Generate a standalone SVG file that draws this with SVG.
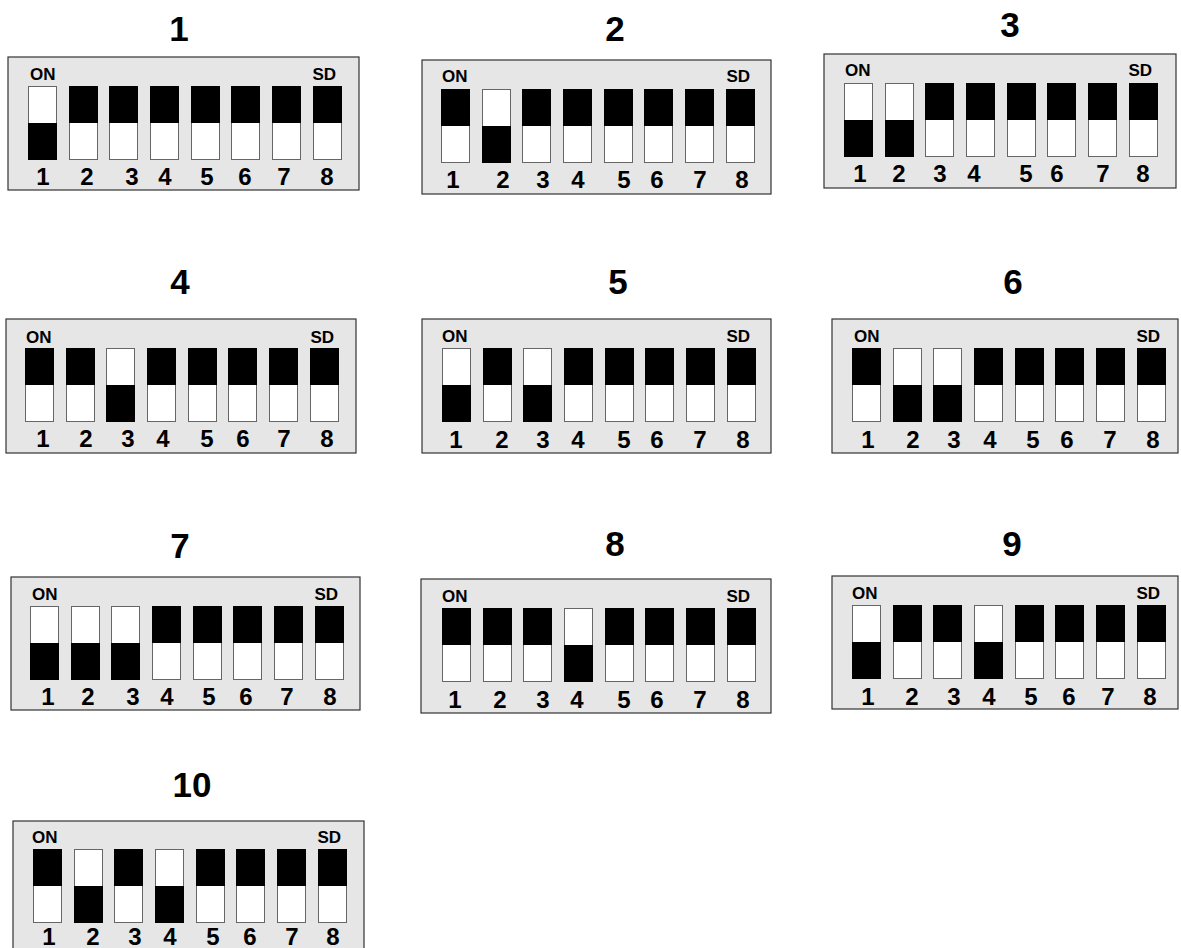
<svg xmlns="http://www.w3.org/2000/svg" xmlns:xlink="http://www.w3.org/1999/xlink" width="1181" height="948" viewBox="0 0 1181 948">
<style>
.bg{fill:#ffffff}
.box{fill:#e6e6e6;stroke:#333333;stroke-width:1.2}
.sw{fill:#ffffff;stroke:#666666;stroke-width:1}
.blk{fill:#000000}
text{font-family:"Liberation Sans",Arial,sans-serif;font-weight:bold;fill:#000}
.ttl{font-size:35px;text-anchor:middle}
.lbl{font-size:17px}
.sd{font-size:17px;text-anchor:end}
.num{font-size:24px;text-anchor:middle}
</style>
<defs>
<g id="up"><rect class="sw" x="0.5" y="0.5" width="28" height="73"/><rect class="blk" x="0" y="0" width="29" height="37"/></g>
<g id="dn"><rect class="sw" x="0.5" y="0.5" width="28" height="73"/><rect class="blk" x="0" y="37" width="29" height="37"/></g>
</defs>
<rect class="bg" x="0" y="0" width="1181" height="948"/>

<g id="panel1">
<text class="ttl" x="179" y="41">1</text>
<rect class="box" x="8" y="57" width="351" height="133"/>
<text class="lbl" x="30" y="80">ON</text><text class="sd" x="336" y="80">SD</text>
<use xlink:href="#dn" x="28" y="86"/><use xlink:href="#up" x="69" y="86"/><use xlink:href="#up" x="109" y="86"/><use xlink:href="#up" x="150" y="86"/><use xlink:href="#up" x="191" y="86"/><use xlink:href="#up" x="231" y="86"/><use xlink:href="#up" x="272" y="86"/><use xlink:href="#up" x="313" y="86"/>
<text class="num" y="185"><tspan x="43">1</tspan><tspan x="87">2</tspan><tspan x="132">3</tspan><tspan x="165">4</tspan><tspan x="207">5</tspan><tspan x="245">6</tspan><tspan x="284">7</tspan><tspan x="327">8</tspan></text>
</g>

<g id="panel2">
<text class="ttl" x="615" y="41">2</text>
<rect class="box" x="422" y="60" width="349" height="134"/>
<text class="lbl" x="442" y="82">ON</text><text class="sd" x="750" y="82">SD</text>
<use xlink:href="#up" x="441" y="89"/><use xlink:href="#dn" x="482" y="89"/><use xlink:href="#up" x="522" y="89"/><use xlink:href="#up" x="563" y="89"/><use xlink:href="#up" x="604" y="89"/><use xlink:href="#up" x="644" y="89"/><use xlink:href="#up" x="685" y="89"/><use xlink:href="#up" x="726" y="89"/>
<text class="num" y="188"><tspan x="453">1</tspan><tspan x="503">2</tspan><tspan x="543">3</tspan><tspan x="578">4</tspan><tspan x="624">5</tspan><tspan x="657">6</tspan><tspan x="700">7</tspan><tspan x="742">8</tspan></text>
</g>

<g id="panel3">
<text class="ttl" x="1010" y="37">3</text>
<rect class="box" x="824" y="54" width="352" height="134"/>
<text class="lbl" x="845" y="76">ON</text><text class="sd" x="1152" y="76">SD</text>
<use xlink:href="#dn" x="844" y="83"/><use xlink:href="#dn" x="885" y="83"/><use xlink:href="#up" x="925" y="83"/><use xlink:href="#up" x="966" y="83"/><use xlink:href="#up" x="1007" y="83"/><use xlink:href="#up" x="1047" y="83"/><use xlink:href="#up" x="1088" y="83"/><use xlink:href="#up" x="1129" y="83"/>
<text class="num" y="182"><tspan x="860">1</tspan><tspan x="899">2</tspan><tspan x="940">3</tspan><tspan x="974">4</tspan><tspan x="1026">5</tspan><tspan x="1057">6</tspan><tspan x="1103">7</tspan><tspan x="1143">8</tspan></text>
</g>

<g id="panel4">
<text class="ttl" x="180" y="294">4</text>
<rect class="box" x="6" y="319" width="350" height="134"/>
<text class="lbl" x="26" y="343">ON</text><text class="sd" x="334" y="343">SD</text>
<use xlink:href="#up" x="25" y="348"/><use xlink:href="#up" x="66" y="348"/><use xlink:href="#dn" x="106" y="348"/><use xlink:href="#up" x="147" y="348"/><use xlink:href="#up" x="188" y="348"/><use xlink:href="#up" x="228" y="348"/><use xlink:href="#up" x="269" y="348"/><use xlink:href="#up" x="310" y="348"/>
<text class="num" y="447"><tspan x="43">1</tspan><tspan x="86">2</tspan><tspan x="128">3</tspan><tspan x="163">4</tspan><tspan x="207">5</tspan><tspan x="243">6</tspan><tspan x="284">7</tspan><tspan x="327">8</tspan></text>
</g>

<g id="panel5">
<text class="ttl" x="618" y="294">5</text>
<rect class="box" x="422" y="319" width="349" height="134"/>
<text class="lbl" x="442" y="342">ON</text><text class="sd" x="750" y="342">SD</text>
<use xlink:href="#dn" x="442" y="348"/><use xlink:href="#up" x="483" y="348"/><use xlink:href="#dn" x="523" y="348"/><use xlink:href="#up" x="564" y="348"/><use xlink:href="#up" x="605" y="348"/><use xlink:href="#up" x="645" y="348"/><use xlink:href="#up" x="686" y="348"/><use xlink:href="#up" x="727" y="348"/>
<text class="num" y="448"><tspan x="456">1</tspan><tspan x="502">2</tspan><tspan x="543">3</tspan><tspan x="578">4</tspan><tspan x="624">5</tspan><tspan x="657">6</tspan><tspan x="700">7</tspan><tspan x="743">8</tspan></text>
</g>

<g id="panel6">
<text class="ttl" x="1013" y="294">6</text>
<rect class="box" x="832" y="319" width="346" height="134"/>
<text class="lbl" x="854" y="342">ON</text><text class="sd" x="1160" y="342">SD</text>
<use xlink:href="#up" x="852" y="348"/><use xlink:href="#dn" x="893" y="348"/><use xlink:href="#dn" x="933" y="348"/><use xlink:href="#up" x="974" y="348"/><use xlink:href="#up" x="1015" y="348"/><use xlink:href="#up" x="1055" y="348"/><use xlink:href="#up" x="1096" y="348"/><use xlink:href="#up" x="1137" y="348"/>
<text class="num" y="448"><tspan x="868">1</tspan><tspan x="913">2</tspan><tspan x="954">3</tspan><tspan x="990">4</tspan><tspan x="1033">5</tspan><tspan x="1067">6</tspan><tspan x="1110">7</tspan><tspan x="1153">8</tspan></text>
</g>

<g id="panel7">
<text class="ttl" x="180" y="558">7</text>
<rect class="box" x="11" y="577" width="349" height="133"/>
<text class="lbl" x="32" y="600">ON</text><text class="sd" x="338" y="600">SD</text>
<use xlink:href="#dn" x="30" y="606"/><use xlink:href="#dn" x="71" y="606"/><use xlink:href="#dn" x="111" y="606"/><use xlink:href="#up" x="152" y="606"/><use xlink:href="#up" x="193" y="606"/><use xlink:href="#up" x="233" y="606"/><use xlink:href="#up" x="274" y="606"/><use xlink:href="#up" x="315" y="606"/>
<text class="num" y="705"><tspan x="48">1</tspan><tspan x="88">2</tspan><tspan x="133">3</tspan><tspan x="167">4</tspan><tspan x="209">5</tspan><tspan x="246">6</tspan><tspan x="287">7</tspan><tspan x="330">8</tspan></text>
</g>

<g id="panel8">
<text class="ttl" x="615" y="556">8</text>
<rect class="box" x="421" y="579" width="350" height="134"/>
<text class="lbl" x="442" y="602">ON</text><text class="sd" x="750" y="602">SD</text>
<use xlink:href="#up" x="442" y="608"/><use xlink:href="#up" x="483" y="608"/><use xlink:href="#up" x="523" y="608"/><use xlink:href="#dn" x="564" y="608"/><use xlink:href="#up" x="605" y="608"/><use xlink:href="#up" x="645" y="608"/><use xlink:href="#up" x="686" y="608"/><use xlink:href="#up" x="727" y="608"/>
<text class="num" y="708"><tspan x="455">1</tspan><tspan x="500">2</tspan><tspan x="543">3</tspan><tspan x="577">4</tspan><tspan x="624">5</tspan><tspan x="657">6</tspan><tspan x="700">7</tspan><tspan x="743">8</tspan></text>
</g>

<g id="panel9">
<text class="ttl" x="1012" y="556">9</text>
<rect class="box" x="832" y="576" width="346" height="133"/>
<text class="lbl" x="852" y="599">ON</text><text class="sd" x="1160" y="599">SD</text>
<use xlink:href="#dn" x="852" y="605"/><use xlink:href="#up" x="893" y="605"/><use xlink:href="#up" x="933" y="605"/><use xlink:href="#dn" x="974" y="605"/><use xlink:href="#up" x="1015" y="605"/><use xlink:href="#up" x="1055" y="605"/><use xlink:href="#up" x="1096" y="605"/><use xlink:href="#up" x="1137" y="605"/>
<text class="num" y="705"><tspan x="868">1</tspan><tspan x="912">2</tspan><tspan x="954">3</tspan><tspan x="989">4</tspan><tspan x="1031">5</tspan><tspan x="1069">6</tspan><tspan x="1108">7</tspan><tspan x="1150">8</tspan></text>
</g>

<g id="panel10">
<text class="ttl" x="192" y="797">10</text>
<rect class="box" x="13" y="821" width="351" height="134"/>
<text class="lbl" x="32" y="843">ON</text><text class="sd" x="341" y="843">SD</text>
<use xlink:href="#up" x="33" y="849"/><use xlink:href="#dn" x="74" y="849"/><use xlink:href="#up" x="114" y="849"/><use xlink:href="#dn" x="155" y="849"/><use xlink:href="#up" x="196" y="849"/><use xlink:href="#up" x="236" y="849"/><use xlink:href="#up" x="277" y="849"/><use xlink:href="#up" x="318" y="849"/>
<text class="num" y="945"><tspan x="49">1</tspan><tspan x="93">2</tspan><tspan x="135">3</tspan><tspan x="170">4</tspan><tspan x="213">5</tspan><tspan x="250">6</tspan><tspan x="292">7</tspan><tspan x="333">8</tspan></text>
</g>

<g id="connectors"></g>
</svg>
